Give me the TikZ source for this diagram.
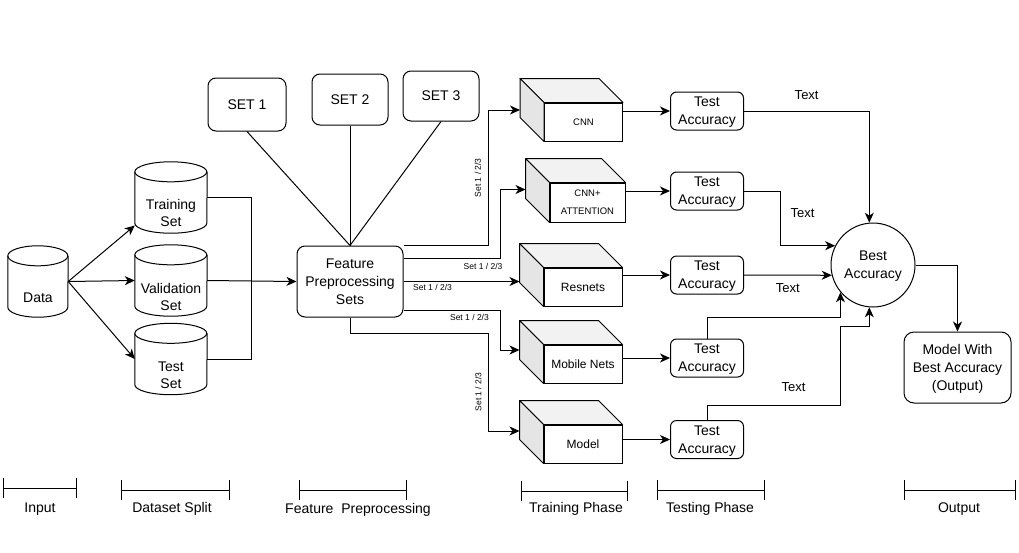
\documentclass[tikz,border=0pt]{standalone}
\usepackage{fontspec}
\setmainfont{Liberation Sans}
\usetikzlibrary{arrows.meta,calc}

\newcommand{\cubefaces}[1]{%
\filldraw[fill=gray!10,line width=1pt,line join=round] (#1.north west) -- ++(-24,-24) -- ($(#1.north east)+(-24,-24)$) -- (#1.north east) -- cycle;
\filldraw[fill=gray!20,line width=1pt,line join=round] (#1.north west) -- ++(-24,-24) -- ($(#1.south west)+(-24,-24)$) -- (#1.south west) -- cycle;}
\newcommand{\cylfaces}[3]{%
\draw[line width=1pt] ($(#1.north west)+(0,#3)$) arc[start angle=180,end angle=-180,x radius=#2,y radius=#3];
\draw[line width=1pt] ($(#1.north west)+(0,#3)$) -- ($(#1.south west)+(0,-#3)$) arc[start angle=180,end angle=0,x radius=#2,y radius=#3] -- ($(#1.north east)+(0,#3)$);}

\begin{document}
\begin{tikzpicture}[x=1pt,y=-1pt,
box/.style={draw,line width=1pt,rounded corners=8pt,align=center,text depth=0pt,font=\fontsize{14}{18}\selectfont},
setbox/.style={box,minimum width=76pt,minimum height=51pt},
tacc/.style={box,rounded corners=6pt,minimum width=73pt,minimum height=38pt,inner sep=1pt},
cyl/.style={minimum width=72pt,minimum height=71pt,inner sep=0pt},
cyltext/.style={align=center,font=\fontsize{14}{17}\selectfont},
cubef/.style={draw,fill=white,line width=1pt,minimum width=78pt,minimum height=38pt,inner sep=1pt,align=center,font=\fontsize{12}{14}\selectfont},
arr/.style={line width=1pt,-{Stealth[length=10pt,width=9pt,inset=3pt]}},
ln/.style={line width=1pt},
lbl/.style={font=\fontsize{8.5}{10}\selectfont,inner sep=1pt},
lblr/.style={lbl,rotate=90,anchor=south,inner sep=6.5pt},
txt/.style={font=\fontsize{13}{15}\selectfont,inner sep=2pt},
phase/.style={font=\fontsize{14}{17}\selectfont},
phasebar/.style={line width=1pt,{Bar[width=20pt]}-{Bar[width=20pt]}}]
\useasboundingbox (0,0) rectangle (1019,552);

\node[cyl,minimum width=60pt,label={[cyltext,name=dataT,yshift=-16pt]center:Data}] (data) at (38,281.5) {};
\node[cyl,label={[cyltext,name=trainT,yshift=-15pt]center:Training\\Set}] (train) at (171,197.5) {};
\node[cyl,label={[cyltext,name=validT,yshift=-16pt]center:Validation\\Set}] (valid) at (171,280.5) {};
\node[cyl,label={[cyltext,name=testT,yshift=-16pt]center:Test\\Set}] (test) at (171,359) {};
\cylfaces{data}{30}{10}
\cylfaces{train}{36}{10}
\cylfaces{valid}{36}{10}
\cylfaces{test}{36}{10}

\draw[arr] (data.east) -- ($(train.west)+(0,28)$);
\draw[arr] (data.east) -- (valid.west);
\draw[arr] (data.east) -- (test.west);

\node[box,minimum width=106pt,minimum height=71pt] (fps) at (350,281.5) {Feature\\Preprocessing\\Sets};
\coordinate (jn) at ($(valid.east)!0.5!(fps.west)$);
\draw[ln] (train.east) -| (jn);
\draw[ln] (test.east) -| (jn);
\draw[arr] (valid.east) -- (fps.west);

\node[setbox,minimum width=78pt,minimum height=53pt] (set1) at (247,104.5) {SET 1};
\node[setbox] (set2) at (350,99.5) {SET 2};
\node[setbox,minimum height=50pt] (set3) at (441,96) {SET 3};
\draw[ln] (set1.south) -- (fps.north);
\draw[ln] (set2.south) -- (fps.north);
\draw[ln] (set3.south) -- (fps.north);

\node[cubef,font=\fontsize{9.5}{11}\selectfont] (cnn) at (583.5,122) {CNN};
\node[cubef,minimum width=75pt,minimum height=39pt,font=\fontsize{9.5}{18}\selectfont] (att) at (587.5,202.5) {CNN+\\ATTENTION};
\node[cubef] (res) at (583,287) {Resnets};
\node[cubef] (mob) at (583,364) {Mobile Nets};
\node[cubef] (mod) at (583,444) {Model};
\cubefaces{cnn}
\cubefaces{att}
\cubefaces{res}
\cubefaces{mob}
\cubefaces{mod}
\coordinate (cnnL) at ($(cnn.west)+(-24,-12)$);
\coordinate (attL) at ($(att.west)+(-24,-13)$);
\coordinate (resL) at ($(res.west)+(-24,-12)$);
\coordinate (mobL) at ($(mob.west)+(-24,-14)$);
\coordinate (modL) at ($(mod.west)+(-24,-13)$);

\draw[arr] (fps.north east) -| node[lblr,pos=0.75] (s1) {Set 1 / 2/3} ($(cnnL)+(-32,0)$) -- (cnnL);
\draw[arr] ($(fps.east)+(0,-23)$) -| node[lbl,pos=0.41,below=3pt] (s2) {Set 1 / 2/3} ($(attL)+(-25,0)$) -- (attL);
\draw[arr] (fps.east) -- node[lbl,pos=0.25,below=1pt] (s3) {Set 1 / 2/3} (fps.east -| resL);
\draw[arr] ($(fps.east)+(0,29)$) -| node[lbl,pos=0.34,below=2pt] (s4) {Set 1 / 2/3} ($(mobL)+(-19,0)$) -- (mobL);
\draw[arr] (fps.south) -- ++(0,16) -| node[lblr,pos=0.8] (s5) {Set 1 / 2/3} ($(modL)+(-31,0)$) -- (modL);

\node[tacc] (ta1) at (707,111) {Test\\Accuracy};
\node[tacc] (ta2) at (707,191) {Test\\Accuracy};
\node[tacc] (ta3) at (707,275) {Test\\Accuracy};
\node[tacc] (ta4) at (707,358) {Test\\Accuracy};
\node[tacc] (ta5) at (707,439.5) {Test\\Accuracy};
\draw[arr] (ta1.west -| cnn.east) -- (ta1.west);
\draw[arr] (ta2.west -| att.east) -- (ta2.west);
\draw[arr] (ta3.west -| res.east) -- (ta3.west);
\draw[arr] (ta4.west -| mob.east) -- (ta4.west);
\draw[arr] (ta5.west -| mod.east) -- (ta5.west);

\node[box,circle,minimum size=84pt,inner sep=0pt] (best) at (873,265) {Best\\Accuracy};
\node[box,rounded corners=10pt,minimum width=107pt,minimum height=71pt] (out) at (957.5,367.5) {Model With\\Best Accuracy\\(Output)};

\draw[arr] (ta1.east) -| node[txt,pos=0.25,above=9pt] (t1) {Text} (best.95);
\draw[arr] (ta2.east) -- ++(36,0) |- node[txt,pos=0.2,right=8pt] (t2) {Text} (best.153);
\draw[arr] (ta3.east) -- node[txt,below=6pt] (t3) {Text} (best.194);
\draw[arr] (ta4.north) -- ++(0,-21) -| (best.220);
\draw[arr] (ta5.north) -- ++(0,-15) -- node[txt,pos=0.65,above=11pt] (t5) {Text} ++(133,0) -- ++(0,-79) -| (best.265);
\draw[arr] (best.east) -| (out.north);

\node[phase] (pIn) at (40,509) {Input};
\node[phase] (pDs) at (172,509) {Dataset Split};
\node[phase] (pFp) at (358,510) {Feature\ \ Preprocessing};
\node[phase] (pTr) at (576,509) {Training Phase};
\node[phase] (pTe) at (710,509) {Testing Phase};
\node[phase] (pOut) at (959,509) {Output};
\draw[phasebar] ($(pIn)+(-37,-21)$) -- ++(74,0);
\draw[phasebar] ($(pDs)+(-51,-19)$) -- ++(109,0);
\draw[phasebar] ($(pFp)+(-59,-20)$) -- ++(108,0);
\draw[phasebar] ($(pTr)+(-55,-18)$) -- ++(107,0);
\draw[phasebar] ($(pTe)+(-53,-19)$) -- ++(108,0);
\draw[phasebar] ($(pOut)+(-55,-19)$) -- ++(112,0);
\end{tikzpicture}
\end{document}
